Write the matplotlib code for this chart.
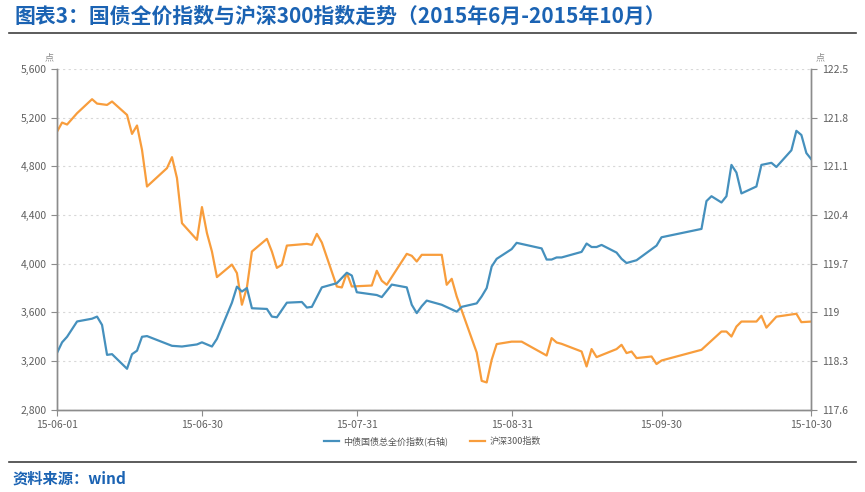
import matplotlib
matplotlib.use('Agg')
import matplotlib.pyplot as plt
import matplotlib.dates as mdates
import matplotlib.ticker as mticker
import pandas as pd

plt.rcParams['font.family'] = ['Noto Sans CJK SC', 'DejaVu Sans']

# 沪深300指数 (左轴)
hs_dates = ['2015-06-01', '2015-06-02', '2015-06-03', '2015-06-05', '2015-06-08', '2015-06-09',
            '2015-06-11', '2015-06-12', '2015-06-15', '2015-06-16', '2015-06-17', '2015-06-18',
            '2015-06-19', '2015-06-23', '2015-06-24', '2015-06-25', '2015-06-26', '2015-06-29',
            '2015-06-30', '2015-07-01', '2015-07-02', '2015-07-03', '2015-07-06', '2015-07-07',
            '2015-07-08', '2015-07-09', '2015-07-10', '2015-07-13', '2015-07-14', '2015-07-15',
            '2015-07-16', '2015-07-17', '2015-07-21', '2015-07-22', '2015-07-23', '2015-07-24',
            '2015-07-27', '2015-07-28', '2015-07-29', '2015-07-30', '2015-08-03', '2015-08-04',
            '2015-08-05', '2015-08-06', '2015-08-10', '2015-08-11', '2015-08-12', '2015-08-13',
            '2015-08-17', '2015-08-18', '2015-08-19', '2015-08-20', '2015-08-24', '2015-08-25',
            '2015-08-26', '2015-08-27', '2015-08-28', '2015-08-31', '2015-09-02', '2015-09-07',
            '2015-09-08', '2015-09-09', '2015-09-10', '2015-09-14', '2015-09-15', '2015-09-16',
            '2015-09-17', '2015-09-21', '2015-09-22', '2015-09-23', '2015-09-24', '2015-09-25',
            '2015-09-28', '2015-09-29', '2015-09-30', '2015-10-08', '2015-10-12', '2015-10-13',
            '2015-10-14', '2015-10-15', '2015-10-16', '2015-10-19', '2015-10-20', '2015-10-21',
            '2015-10-23', '2015-10-27', '2015-10-28', '2015-10-30']
hs_vals = [5085, 5159, 5143, 5236, 5351, 5315,
           5304, 5332, 5222, 5066, 5135, 4935,
           4634, 4785, 4875, 4703, 4333, 4196,
           4465, 4251, 4100, 3890, 3993, 3923,
           3663, 3805, 4100, 4204, 4100, 3966,
           3991, 4149, 4163, 4155, 4245, 4174,
           3813, 3805, 3923, 3813, 3821, 3942,
           3860, 3827, 4081, 4065, 4018, 4073,
           4073, 3827, 3876, 3731, 3271, 3038,
           3025, 3211, 3340, 3360, 3360, 3246,
           3389, 3353, 3342, 3279, 3156, 3299,
           3233, 3299, 3334, 3266, 3279, 3225,
           3238, 3176, 3205, 3293, 3443, 3443,
           3402, 3484, 3525, 3525, 3572, 3475,
           3565, 3589, 3520, 3525]

# 中债国债总全价指数 (右轴)
bd_dates = ['2015-06-01', '2015-06-02', '2015-06-03', '2015-06-05', '2015-06-08', '2015-06-09',
            '2015-06-10', '2015-06-11', '2015-06-12', '2015-06-15', '2015-06-16', '2015-06-17',
            '2015-06-18', '2015-06-19', '2015-06-24', '2015-06-26', '2015-06-29', '2015-06-30',
            '2015-07-02', '2015-07-03', '2015-07-06', '2015-07-07', '2015-07-08', '2015-07-09',
            '2015-07-10', '2015-07-13', '2015-07-14', '2015-07-15', '2015-07-17', '2015-07-20',
            '2015-07-21', '2015-07-22', '2015-07-24', '2015-07-27', '2015-07-29', '2015-07-30',
            '2015-07-31', '2015-08-03', '2015-08-04', '2015-08-05', '2015-08-07', '2015-08-10',
            '2015-08-11', '2015-08-12', '2015-08-13', '2015-08-14', '2015-08-17', '2015-08-20',
            '2015-08-21', '2015-08-24', '2015-08-25', '2015-08-26', '2015-08-27', '2015-08-28',
            '2015-08-31', '2015-09-01', '2015-09-06', '2015-09-07', '2015-09-08', '2015-09-09',
            '2015-09-10', '2015-09-14', '2015-09-15', '2015-09-16', '2015-09-17', '2015-09-18',
            '2015-09-21', '2015-09-22', '2015-09-23', '2015-09-25', '2015-09-29', '2015-09-30',
            '2015-10-08', '2015-10-09', '2015-10-10', '2015-10-12', '2015-10-13', '2015-10-14',
            '2015-10-15', '2015-10-16', '2015-10-19', '2015-10-20', '2015-10-22', '2015-10-23',
            '2015-10-26', '2015-10-27', '2015-10-28', '2015-10-29', '2015-10-30']
bd_vals = [118.42, 118.57, 118.65, 118.87, 118.91, 118.94,
           118.82, 118.39, 118.40, 118.19, 118.40, 118.45,
           118.65, 118.66, 118.52, 118.51, 118.54, 118.57,
           118.51, 118.62, 119.14, 119.37, 119.30, 119.35,
           119.06, 119.05, 118.94, 118.93, 119.14, 119.15,
           119.07, 119.08, 119.36, 119.42, 119.57, 119.53,
           119.29, 119.26, 119.25, 119.22, 119.40, 119.36,
           119.11, 118.99, 119.09, 119.17, 119.11, 119.01,
           119.08, 119.13, 119.23, 119.35, 119.66, 119.77,
           119.91, 120.00, 119.92, 119.76, 119.76, 119.79,
           119.79, 119.87, 119.99, 119.94, 119.94, 119.97,
           119.86, 119.77, 119.71, 119.75, 119.96, 120.08,
           120.20, 120.60, 120.67, 120.58, 120.67, 121.12,
           121.01, 120.71, 120.81, 121.12, 121.15, 121.09,
           121.33, 121.61, 121.55, 121.29, 121.20]

left_ticks = [2800, 3200, 3600, 4000, 4400, 4800, 5200, 5600]
right_ticks = [117.6, 118.3, 119.0, 119.7, 120.4, 121.1, 121.8, 122.5]
right_labels = ['117.6', '118.3', '119', '119.7', '120.4', '121.1', '121.8', '122.5']
x_ticks = ['2015-06-01', '2015-06-30', '2015-07-31', '2015-08-31', '2015-09-30', '2015-10-30']

blue = '#4590BD'
orange = '#F89D3C'
title_blue = '#1B63B3'
grey = '#606060'

fig = plt.figure(figsize=(8.65, 4.92), dpi=100)
fig.patch.set_facecolor('white')

ax = fig.add_axes([0.066, 0.167, 0.872, 0.693])
ax2 = ax.twinx()

l2, = ax.plot(pd.to_datetime(hs_dates), hs_vals, color=orange, lw=1.6, label='沪深300指数')
l1, = ax2.plot(pd.to_datetime(bd_dates), bd_vals, color=blue, lw=1.6, label='中债国债总全价指数(右轴)')

ax.set_xlim(pd.Timestamp('2015-06-01'), pd.Timestamp('2015-10-30'))
ax.set_ylim(2800, 5600)
ax2.set_ylim(117.6, 122.5)
ax.set_yticks(left_ticks)
ax.yaxis.set_major_formatter(mticker.FuncFormatter(lambda v, p: f'{int(v):,}'))
ax2.set_yticks(right_ticks)
ax2.set_yticklabels(right_labels)
ax.set_xticks(pd.to_datetime(x_ticks))
ax.xaxis.set_major_formatter(mdates.DateFormatter('%y-%m-%d'))

ax.grid(axis='y', color='#d8d8d8', ls=(0, (2, 3)), lw=0.8)
for a in (ax, ax2):
    a.spines['top'].set_visible(False)
    for s in ('left', 'right', 'bottom'):
        a.spines[s].set_color('#8c8c8c')
        a.spines[s].set_linewidth(1.0)
    a.tick_params(colors='#8c8c8c', labelcolor=grey, labelsize=7.5, length=4, width=0.8)

ax.text(-0.005, 1.02, '点', transform=ax.transAxes, fontsize=6.5, color='#888888', ha='right', va='bottom')
ax2.text(1.005, 1.02, '点', transform=ax2.transAxes, fontsize=6.5, color='#888888', ha='left', va='bottom')

fig.legend(handles=[l1, l2], loc='center', bbox_to_anchor=(0.5, 0.104), ncol=2, frameon=False,
           fontsize=6.5, handlelength=1.7, handletextpad=0.5, columnspacing=2.4, labelcolor='#555555')

# 标题与来源
fig.text(0.017, 0.966, '图表3：国债全价指数与沪深300指数走势（2015年6月-2015年10月）',
         fontsize=15, fontweight='bold', color=title_blue, va='center', ha='left')
fig.add_artist(plt.Line2D([0.01, 0.99], [0.932, 0.932], color='#404040', lw=1.2, transform=fig.transFigure))
fig.add_artist(plt.Line2D([0.01, 0.99], [0.06, 0.06], color='#404040', lw=1.2, transform=fig.transFigure))
fig.text(0.014, 0.028, '资料来源：wind', fontsize=11, fontweight='bold', color=title_blue,
         va='center', ha='left')

fig.savefig('out.png', dpi=100)
